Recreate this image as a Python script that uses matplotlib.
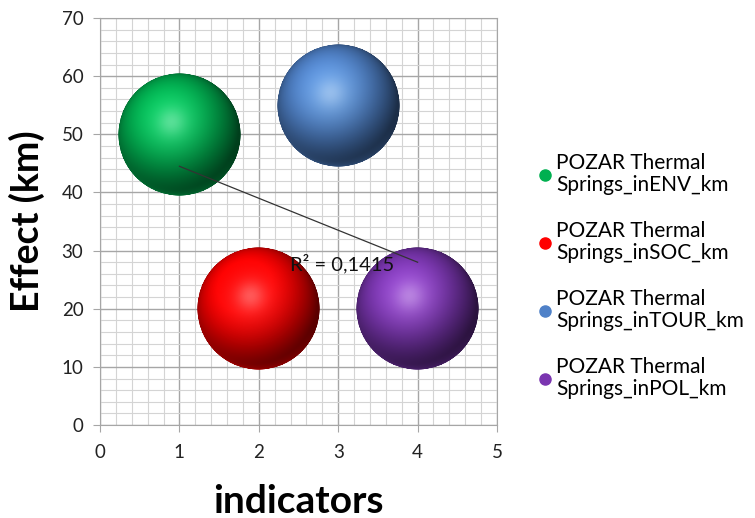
import numpy as np
import matplotlib
matplotlib.use("Agg")
import matplotlib.pyplot as plt
from matplotlib.colors import to_rgb
from matplotlib.lines import Line2D
from matplotlib.offsetbox import OffsetImage, AnnotationBbox

plt.rcParams['font.family'] = ['Lato', 'DejaVu Sans']

# bubble data
indicators = [1, 2, 3, 4]
effect_km = [50, 20, 55, 20]
series = ["POZAR Thermal\nSprings_inENV_km",
          "POZAR Thermal\nSprings_inSOC_km",
          "POZAR Thermal\nSprings_inTOUR_km",
          "POZAR Thermal\nSprings_inPOL_km"]
colors = ["#00b050", "#ff0000", "#4f81c8", "#7a35b0"]

DPI = 100
BUBBLE_PX = 123


def sphere(color, n=300):
    # shaded ball as an RGBA array
    yy, xx = np.mgrid[-1:1:n * 1j, -1:1:n * 1j]
    y = -yy
    r2 = xx ** 2 + y ** 2
    z = np.sqrt(np.clip(1 - r2, 0, 1))
    L = np.array([-0.25, 0.4, 0.88])
    L /= np.linalg.norm(L)
    diff = np.clip(xx * L[0] + y * L[1] + z * L[2], 0, 1)
    base = np.array(to_rgb(color))
    rgb = base[None, None, :] * (0.36 + 0.75 * diff[..., None] ** 1.3)
    H = L + np.array([0, 0, 1.0])
    H /= np.linalg.norm(H)
    hl = np.clip(xx * H[0] + y * H[1] + z * H[2], 0, 1)
    # broad tinted glow plus a small soft highlight
    glow = hl ** 8 * 0.35
    light = np.clip(base * 1.0 + 0.35, 0, 1)
    rgb = rgb + glow[..., None] * (light[None, None, :] - rgb)
    spec = hl ** 40 * 0.25
    rgb = rgb + spec[..., None] * (1 - rgb)
    # reflected light along the lower rim
    rim = (1 - z) ** 2 * np.clip(-y - xx * 0.4, 0, 1) * 0.45
    rgb = rgb + rim[..., None] * (base[None, None, :] * 1.05 - rgb)
    rgb = np.clip(rgb, 0, 1)
    alpha = np.clip((1 - np.sqrt(r2)) * n / 2, 0, 1)
    return np.dstack([rgb, alpha])


fig = plt.figure(figsize=(7.55, 5.18), dpi=DPI)
ax = fig.add_axes([0.1325, 0.1795, 0.5258, 0.7857])

ax.set_xlim(0, 5)
ax.set_ylim(0, 70)
ax.set_xticks(np.arange(0, 6, 1))
ax.set_yticks(np.arange(0, 71, 10))
ax.set_xticks(np.arange(0, 5.01, 0.2), minor=True)
ax.set_yticks(np.arange(0, 70.1, 2), minor=True)
ax.grid(which='major', color='#a6a6a6', lw=1.0)
ax.grid(which='minor', color='#d4d4d4', lw=0.8)
ax.set_axisbelow(True)
ax.tick_params(which='major', direction='out', length=5, color='#a6a6a6',
               labelsize=13.5, labelcolor='#222222')
ax.tick_params(axis='x', pad=9)
ax.tick_params(axis='y', pad=7)
ax.tick_params(which='minor', length=0)
for s in ax.spines.values():
    s.set_color('#a6a6a6')

for x, y, c in zip(indicators, effect_km, colors):
    img = OffsetImage(sphere(c), zoom=BUBBLE_PX / 300 * 72 / DPI)
    ab = AnnotationBbox(img, (x, y), frameon=False, pad=0, zorder=3)
    ax.add_artist(ab)

# linear trendline through the bubble centres
xs = np.array(indicators, dtype=float)
ys = np.array(effect_km, dtype=float)
slope, intercept = np.polyfit(xs, ys, 1)
fit = slope * xs + intercept
r2 = 1 - np.sum((ys - fit) ** 2) / np.sum((ys - ys.mean()) ** 2)
xl = np.array([xs.min(), xs.max()])
ax.plot(xl, slope * xl + intercept, color='#333333', lw=0.9, zorder=4)
ax.text(2.39, 27.8, "R² = " + f"{r2:.4f}".replace('.', ','), fontsize=14.5,
        va='center', ha='left', color='#111111', zorder=5)

ax.set_xlabel("indicators", fontsize=28, fontweight='bold', labelpad=16)
ax.set_ylabel("Effect (km)", fontsize=27, fontweight='bold', labelpad=12)

handles = [Line2D([], [], ls='', marker='o', markersize=8, markerfacecolor=c,
                  markeredgecolor=c) for c in colors]
leg = fig.legend(handles, series, loc='center left',
                 bbox_to_anchor=(0.686, 0.467), frameon=False, fontsize=15,
                 handletextpad=0.15, handlelength=0.8, labelspacing=1.25)
for t in leg.get_texts():
    t.set_linespacing(1.12)

fig.savefig("out.png", dpi=DPI)
